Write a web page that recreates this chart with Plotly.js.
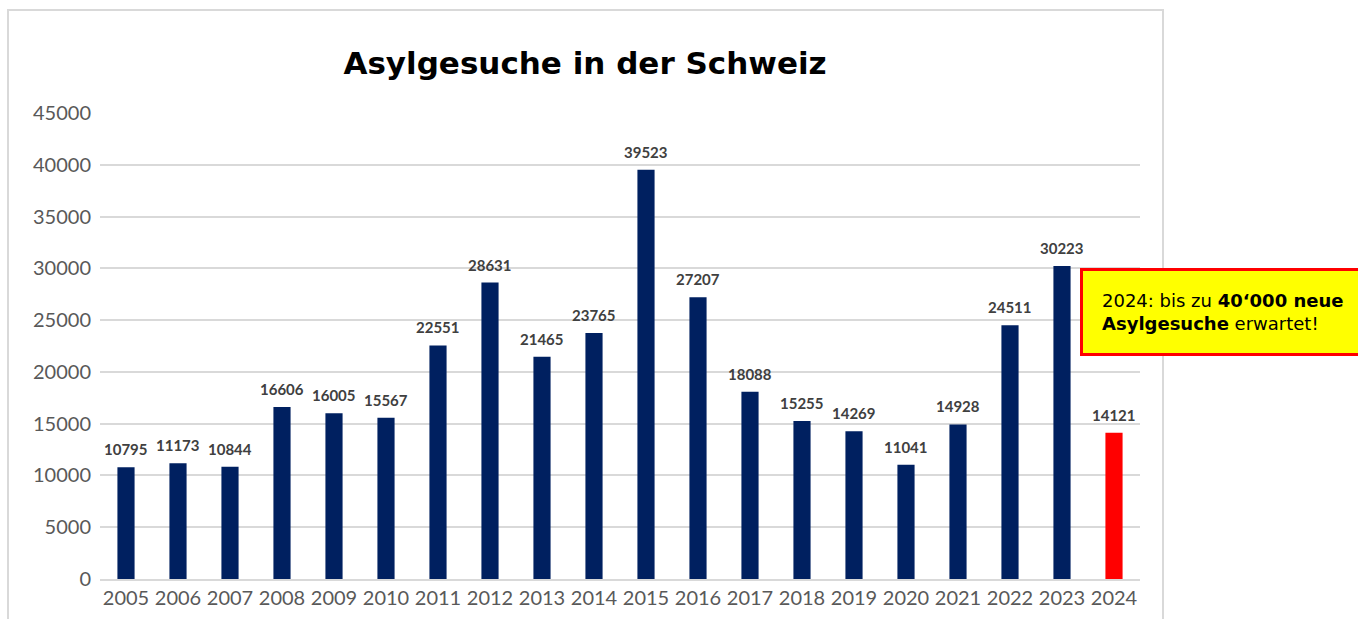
<!DOCTYPE html>
<html>
<head>
<meta charset="utf-8">
<script src="https://cdn.plot.ly/plotly-3.0.1.min.js"></script>
<style>
html,body{margin:0;padding:0;background:#fff;}
#chart{width:1358px;height:619px;}
</style>
</head>
<body>
<div id="chart"></div>
<script>
const years = ['2005','2006','2007','2008','2009','2010','2011','2012','2013','2014','2015','2016','2017','2018','2019','2020','2021','2022','2023','2024'];
const values = [10795,11173,10844,16606,16005,15567,22551,28631,21465,23765,39523,27207,18088,15255,14269,11041,14928,24511,30223,14121];
const yTicks = [0,5000,10000,15000,20000,25000,30000,35000,40000,45000];
const titleText = 'Asylgesuche in der Schweiz';
const noteText = '2024: bis zu <b>40‘000 neue<br>Asylgesuche</b> erwartet!';

const barColors = years.map(y => y === '2024' ? '#ff0000' : '#002060');

const trace = {
  type: 'bar',
  x: years,
  y: values,
  marker: {color: barColors},
  width: 0.33,
  hoverinfo: 'x+y'
};

const labelAnns = years.map((yr, i) => ({
  x: i, y: values[i], xref: 'x', yref: 'y',
  text: '<b>' + String(values[i]) + '</b>',
  showarrow: false,
  xanchor: 'center',
  yanchor: 'bottom',
  yshift: 7,
  font: {family: 'Lato, sans-serif', size: 15, color: '#404040'}
}));

const note = {
  xref: 'paper', yref: 'paper',
  x: 0.9423, y: 0.574,
  xanchor: 'left', yanchor: 'middle',
  text: noteText,
  showarrow: false,
  align: 'left',
  bgcolor: '#ffff00',
  bordercolor: '#ff0000',
  borderwidth: 3,
  borderpad: 19,
  width: 310,
  font: {family: 'DejaVu Sans, Verdana, sans-serif', size: 18, color: '#000000'}
};

const layout = {
  width: 1358,
  height: 619,
  margin: {l: 100, r: 218, t: 113, b: 40},
  paper_bgcolor: '#ffffff',
  plot_bgcolor: '#ffffff',
  title: {
    text: '<b>' + titleText + '</b>',
    x: 585/1358, xanchor: 'center',
    y: 1 - 63/619, yanchor: 'middle',
    font: {family: 'DejaVu Sans, Verdana, sans-serif', size: 31, color: '#000000'}
  },
  xaxis: {
    type: 'category',
    range: [-0.5, 19.5],
    showgrid: false,
    showline: true,
    linecolor: '#d9d9d9',
    linewidth: 2,
    ticks: '',
    tickfont: {family: 'Lato, sans-serif', size: 20, color: '#595959'},
    fixedrange: true
  },
  yaxis: {
    range: [0, 45000],
    tickvals: yTicks,
    ticktext: yTicks.map(String),
    showgrid: true,
    gridcolor: '#d9d9d9',
    gridwidth: 2,
    zeroline: false,
    showline: false,
    ticks: '',
    ticklabelstandoff: 8,
    tickfont: {family: 'Lato, sans-serif', size: 20, color: '#595959'},
    fixedrange: true
  },
  shapes: [{
    type: 'rect', xref: 'paper', yref: 'paper',
    x0: (8-100)/1040, x1: (1163-100)/1040,
    y0: (579-640)/466, y1: (579-10)/466,
    line: {color: '#d9d9d9', width: 2},
    fillcolor: 'rgba(0,0,0,0)',
    layer: 'below'
  }],
  annotations: labelAnns.concat([note]),
  showlegend: false,
  bargap: 0.67
};

Plotly.newPlot('chart', [trace], layout, {displayModeBar: false, staticPlot: true});
</script>
</body>
</html>
